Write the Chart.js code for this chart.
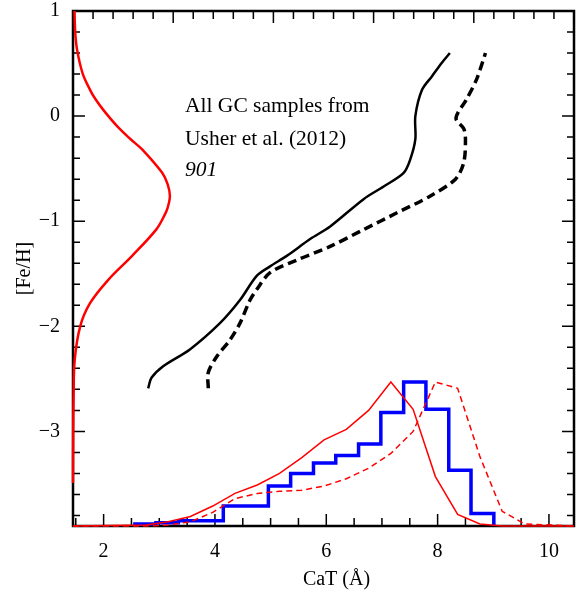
<!DOCTYPE html>
<html>
<head>
<meta charset="utf-8">
<script src="https://cdn.jsdelivr.net/npm/chart.js@4.4.1/dist/chart.umd.min.js"></script>
<style>
  body { margin: 0; background: #fff; }
</style>
</head>
<body>
<canvas id="catChart" width="580" height="596"></canvas>
<script>
// values
const feTicks = [-3, -2, -1, 0, 1];
const catTicks = [2, 4, 6, 8, 10];

// metallicity distribution (red, on the top axis)
const gaussFeH = [1.0, 0.8, 0.635, 0.41, 0.25, 0.16, 0.05, -0.095, -0.22, -0.317, -0.54, -0.65, -0.76, -0.87, -0.95, -1.08, -1.33, -1.56, -1.78, -2.0, -2.32, -2.67, -3.0, -3.49];
const gaussDens = [0.015, 0.022, 0.04, 0.095, 0.17, 0.225, 0.31, 0.44, 0.575, 0.69, 0.89, 0.945, 0.967, 0.945, 0.91, 0.83, 0.59, 0.35, 0.17, 0.072, 0.017, 0.006, 0.002, 0.0];

// CaT - [Fe/H] relations
const relSolidCaT = [2.80, 2.86, 3.07, 3.55, 4.09, 4.45, 4.75, 4.99, 5.29, 5.71, 6.07, 6.67, 7.03, 7.39, 7.51, 7.60, 7.60, 7.72, 7.90, 8.08, 8.22];
const relSolidFeH = [-2.59, -2.49, -2.38, -2.22, -1.97, -1.75, -1.52, -1.43, -1.33, -1.17, -1.05, -0.79, -0.67, -0.54, -0.41, -0.22, 0.0, 0.25, 0.38, 0.51, 0.60];
const relDashCaT = [3.88, 3.88, 4.03, 4.27, 4.45, 4.63, 4.75, 4.99, 5.47, 6.07, 6.67, 7.27, 7.87, 8.32, 8.47, 8.50, 8.47, 8.33, 8.52, 8.70, 8.86];
const relDashFeH = [-2.59, -2.44, -2.29, -2.13, -1.97, -1.75, -1.65, -1.49, -1.37, -1.24, -1.08, -0.92, -0.76, -0.60, -0.44, -0.22, -0.12, -0.02, 0.16, 0.35, 0.60];

// observed CaT histogram (blue)
const histEdges = [2.53, 2.94, 3.34, 3.74, 4.15, 4.55, 4.96, 5.36, 5.77, 6.17, 6.58, 6.98, 7.39, 7.79, 8.20, 8.60, 9.01];
const histTops = [-3.88, -3.87, -3.85, -3.85, -3.71, -3.71, -3.52, -3.40, -3.30, -3.23, -3.12, -2.82, -2.53, -2.79, -3.37, -3.78];

// predicted CaT distributions (red thin)
const predCaT = [1.45, 2.76, 3.16, 3.56, 3.96, 4.36, 4.76, 5.16, 5.56, 5.96, 6.36, 6.76, 7.16, 7.56, 7.96, 8.36, 8.76, 9.16, 9.56, 10.45];
const predSolid = [-3.9, -3.89, -3.86, -3.81, -3.71, -3.59, -3.51, -3.40, -3.25, -3.08, -2.98, -2.80, -2.53, -2.79, -3.43, -3.79, -3.88, -3.9, -3.9, -3.9];
const predDash = [-3.9, -3.9, -3.89, -3.86, -3.77, -3.64, -3.59, -3.57, -3.56, -3.52, -3.45, -3.35, -3.21, -3.00, -2.53, -2.59, -3.24, -3.76, -3.88, -3.9];

const serif = "'Liberation Serif', 'DejaVu Serif', serif";

function pts(xs, ys) {
  return xs.map((x, i) => ({ x: x, y: ys[i] }));
}

const histPts = pts(histEdges.slice(0, histTops.length), histTops);
histPts.push({ x: histEdges[histEdges.length - 1], y: histTops[histTops.length - 1] });
histPts.push({ x: histEdges[histEdges.length - 1], y: -3.9 });

const gaussPts = gaussDens.map((d, i) => ({ x: d, y: gaussFeH[i] }));

// frame + inward ticks on all four sides, plus the texts
const framePlugin = {
  id: "frame",
  beforeDatasetsDraw(chart) {
    const { ctx, chartArea: a, scales } = chart;
    const xs = scales.x, ys = scales.y, xt = scales.x2;
    ctx.save();
    ctx.strokeStyle = "#000";
    ctx.lineWidth = 1.5;
    ctx.beginPath();
    // bottom: minor every 0.5
    for (let v = 1.5; v <= 10.45; v += 0.5) {
      const px = xs.getPixelForValue(v);
      const len = Math.abs(v % 2) < 1e-6 ? 12 : 8;
      ctx.moveTo(px, a.bottom); ctx.lineTo(px, a.bottom - len);
    }
    // top: second axis, minor every 0.2
    for (let i = 1; i < 25; i++) {
      const v = i * 0.2;
      const px = xt.getPixelForValue(v);
      const len = i % 5 === 0 ? 12 : 8;
      ctx.moveTo(px, a.top); ctx.lineTo(px, a.top + len);
    }
    // left and right: minor every 0.2
    for (let i = -19; i < 5; i++) {
      const v = i * 0.2;
      const py = ys.getPixelForValue(v);
      const len = i % 5 === 0 ? 12 : 7;
      ctx.moveTo(a.left, py); ctx.lineTo(a.left + len, py);
      ctx.moveTo(a.right, py); ctx.lineTo(a.right - len, py);
    }
    ctx.stroke();
    ctx.lineWidth = 2.5;
    ctx.strokeRect(a.left, a.top, a.right - a.left, a.bottom - a.top);
    ctx.restore();
  },
  afterDraw(chart) {
    const { ctx, chartArea: a } = chart;
    ctx.save();
    ctx.fillStyle = "#000";
    ctx.textBaseline = "alphabetic";
    ctx.textAlign = "left";
    ctx.font = "21.5px " + serif;
    ctx.fillText("All GC samples from", 185, 112);
    ctx.fillText("Usher et al. (2012)", 185, 145);
    ctx.font = "italic 21.5px " + serif;
    ctx.fillText("901", 185, 176);
    ctx.textAlign = "center";
    ctx.textBaseline = "middle";
    ctx.font = "20px " + serif;
    ctx.fillText("CaT (Å)", (a.left + a.right) / 2 + 13, 580);
    ctx.restore();
  },
};

const ctx = document.getElementById("catChart").getContext("2d");
const chart = new Chart(ctx, {
  type: "scatter",
  data: {
    datasets: [
      {
        label: "predicted",
        data: pts(predCaT, predSolid),
        showLine: true,
        borderColor: "#ff0000",
        borderWidth: 1.5,
        pointRadius: 0,
        clip: 4,
      },
      {
        label: "predicted (shifted)",
        data: pts(predCaT, predDash),
        showLine: true,
        borderColor: "#ff0000",
        borderWidth: 1.5,
        borderDash: [6, 4],
        pointRadius: 0,
        clip: 4,
      },
      {
        label: "MDF",
        data: gaussPts,
        xAxisID: "x2",
        showLine: true,
        borderColor: "#ff0000",
        borderWidth: 2.5,
        tension: 0.35,
        pointRadius: 0,
        clip: 4,
      },
      {
        label: "observed",
        data: histPts,
        showLine: true,
        stepped: "before",
        borderColor: "#0000ff",
        borderWidth: 3.5,
        borderJoinStyle: "miter",
        pointRadius: 0,
        clip: 4,
      },
      {
        label: "relation",
        data: pts(relSolidCaT, relSolidFeH),
        showLine: true,
        borderColor: "#000",
        borderWidth: 2.5,
        tension: 0.3,
        pointRadius: 0,
      },
      {
        label: "relation (shifted)",
        data: pts(relDashCaT, relDashFeH),
        showLine: true,
        borderColor: "#000",
        borderWidth: 3.5,
        borderDash: [9, 5],
        tension: 0.3,
        pointRadius: 0,
      },
    ],
  },
  options: {
    responsive: false,
    animation: false,
    layout: { padding: { top: 11, right: 6, left: 0, bottom: 0 } },
    plugins: {
      legend: { display: false },
      tooltip: { enabled: false },
    },
    scales: {
      x: {
        type: "linear",
        position: "bottom",
        min: 1.45,
        max: 10.45,
        grid: { display: false, drawTicks: false },
        border: { display: false },
        afterBuildTicks: (s) => { s.ticks = catTicks.map((v) => ({ value: v })); },
        afterFit: (s) => { s.height = 70; s.paddingLeft = 0; s.paddingRight = 0; },
        ticks: {
          color: "#000",
          padding: 14,
          maxRotation: 0,
          font: { family: serif, size: 20 },
        },
      },
      x2: {
        type: "linear",
        position: "top",
        min: 0,
        max: 5,
        display: false,
      },
      y: {
        type: "linear",
        min: -3.9,
        max: 1,
        grid: { display: false, drawTicks: false },
        border: { display: false },
        afterBuildTicks: (s) => { s.ticks = feTicks.map((v) => ({ value: v })); },
        afterFit: (s) => { s.width = 73; s.paddingTop = 0; s.paddingBottom = 0; },
        ticks: {
          color: "#000",
          padding: 13,
          font: { family: serif, size: 20 },
          callback: (v) => (v < 0 ? "\u2212" + Math.abs(v) : String(v)),
        },
        title: {
          display: true,
          text: "[Fe/H]",
          color: "#000",
          padding: { top: 13, bottom: 0 },
          font: { family: serif, size: 20 },
        },
      },
    },
  },
  plugins: [framePlugin],
});
</script>
</body>
</html>
